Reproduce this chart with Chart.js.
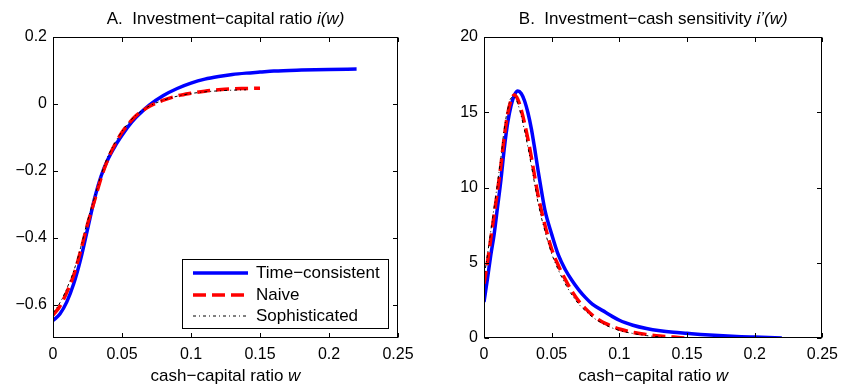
<!DOCTYPE html>
<html>
<head>
<meta charset="utf-8">
<script src="https://cdn.jsdelivr.net/npm/chart.js@4.4.1/dist/chart.umd.min.js"></script>
<style>
  html, body { margin: 0; padding: 0; background: #fff; }
  #wrap { position: relative; width: 845px; height: 387px; }
  canvas { position: absolute; top: 0; }
  #chartA { left: 0; }
  #chartB { left: 422px; }
</style>
</head>
<body>
<div id="wrap">
  <canvas id="chartA" width="422" height="387"></canvas>
  <canvas id="chartB" width="423" height="387"></canvas>
</div>
<script>
/* ==========================================================
   Investment-capital ratio i(w) and sensitivity i'(w)
   Time-consistent vs Naive vs Sophisticated
========================================================== */

// ---- Panel A: i(w) ----
const wTimeA = [0, 0.005, 0.01, 0.015, 0.02, 0.025, 0.03, 0.035, 0.04, 0.045, 0.05, 0.055, 0.06, 0.065, 0.07, 0.08, 0.09, 0.1, 0.11, 0.12, 0.13, 0.14, 0.15, 0.16, 0.18, 0.2, 0.22];
const iTime = [-0.648, -0.628, -0.592, -0.538, -0.465, -0.375, -0.285, -0.214, -0.164, -0.126, -0.094, -0.065, -0.041, -0.021, -0.003, 0.025, 0.046, 0.062, 0.074, 0.082, 0.088, 0.092, 0.095, 0.098, 0.101, 0.103, 0.104];

const wNaiveA = [0, 0.005, 0.01, 0.015, 0.02, 0.025, 0.03, 0.035, 0.04, 0.045, 0.05, 0.055, 0.06, 0.07, 0.08, 0.09, 0.1, 0.11, 0.12, 0.13, 0.14, 0.15];
const iNaive = [-0.632, -0.605, -0.563, -0.512, -0.44, -0.36, -0.29, -0.22, -0.163, -0.12, -0.085, -0.058, -0.036, -0.007, 0.011, 0.024, 0.032, 0.038, 0.042, 0.045, 0.046, 0.047];

const wSophA = [0, 0.005, 0.01, 0.015, 0.02, 0.025, 0.03, 0.035, 0.04, 0.045, 0.05, 0.055, 0.06, 0.07, 0.08, 0.09, 0.1, 0.11, 0.12, 0.13, 0.14];
const iSoph = [-0.625, -0.595, -0.552, -0.5, -0.43, -0.35, -0.28, -0.21, -0.155, -0.115, -0.082, -0.055, -0.034, -0.006, 0.011, 0.023, 0.031, 0.036, 0.039, 0.041, 0.042];

// ---- Panel B: i'(w) ----
const wTimeB = [0, 0.0025, 0.005, 0.0075, 0.01, 0.0125, 0.015, 0.0175, 0.02, 0.0225, 0.025, 0.0275, 0.03, 0.0325, 0.035, 0.0375, 0.04, 0.0425, 0.045, 0.05, 0.055, 0.06, 0.065, 0.07, 0.075, 0.08, 0.09, 0.1, 0.11, 0.12, 0.13, 0.14, 0.15, 0.16, 0.17, 0.18, 0.19, 0.2, 0.21, 0.22];
const dTime = [2.4, 3.9, 5.5, 6.9, 8.7, 10.5, 12.6, 14.3, 15.45, 16.15, 16.42, 16.25, 15.75, 14.95, 13.9, 12.55, 11.1, 9.75, 8.5, 6.9, 5.5, 4.55, 3.82, 3.2, 2.68, 2.25, 1.7, 1.18, 0.85, 0.63, 0.48, 0.38, 0.31, 0.24, 0.18, 0.13, 0.09, 0.06, 0.03, 0.0];

const wNaiveB = [0, 0.0025, 0.005, 0.0075, 0.01, 0.0125, 0.015, 0.0175, 0.02, 0.0225, 0.025, 0.0275, 0.03, 0.0325, 0.035, 0.0375, 0.04, 0.045, 0.05, 0.055, 0.06, 0.065, 0.07, 0.075, 0.08, 0.085, 0.09, 0.1, 0.11, 0.12, 0.13, 0.14, 0.148];
const dNaive = [3.6, 5.0, 6.6, 8.2, 9.8, 11.5, 13.4, 14.9, 15.8, 16.15, 15.85, 15.15, 14.25, 13.2, 12.0, 10.7, 9.45, 7.5, 5.9, 4.8, 3.9, 3.1, 2.45, 1.95, 1.52, 1.2, 0.95, 0.6, 0.38, 0.24, 0.13, 0.06, 0.0];

const wSophB = [0, 0.0025, 0.005, 0.0075, 0.01, 0.0125, 0.015, 0.0175, 0.02, 0.0225, 0.025, 0.0275, 0.03, 0.0325, 0.035, 0.0375, 0.04, 0.045, 0.05, 0.055, 0.06, 0.065, 0.07, 0.075, 0.08, 0.085, 0.09, 0.1, 0.11, 0.12, 0.13, 0.14];
const dSoph = [4.0, 5.5, 7.1, 8.7, 10.3, 12.0, 13.9, 15.2, 15.95, 16.0, 15.55, 14.75, 13.75, 12.65, 11.45, 10.2, 8.95, 7.1, 5.6, 4.5, 3.6, 2.85, 2.25, 1.8, 1.4, 1.1, 0.85, 0.5, 0.3, 0.16, 0.07, 0.0];

// ---- ticks ----
const xTicks = [0, 0.05, 0.1, 0.15, 0.2, 0.25];
const yTicksA = [-0.6, -0.4, -0.2, 0, 0.2];
const yTicksB = [0, 5, 10, 15, 20];

const FONT = "'Liberation Sans', Arial, Helvetica, sans-serif";
Chart.defaults.font.family = FONT;
Chart.defaults.color = "#000";

const STYLE = {
    time: { borderColor: "#0000FF", borderWidth: 3.5, borderDash: [] },
    naive: { borderColor: "#FF0000", borderWidth: 3.5, borderDash: [13, 6] },
    soph: { borderColor: "#000000", borderWidth: 1, borderDash: [3, 3, 1, 3] }
};

function pts(xs, ys) {
    return xs.map((x, i) => ({ x: x, y: ys[i] }));
}

function fmt(v) {
    return String(v).replace("-", "\u2212");
}

function series(label, style, xs, ys, order) {
    return Object.assign({
        label: label,
        data: pts(xs, ys),
        showLine: true,
        pointRadius: 0,
        cubicInterpolationMode: "monotone",
        order: order
    }, style);
}

// draw a line of mixed normal / italic text centred on cx
function drawParts(ctx, parts, cx, cy, size) {
    let total = 0;
    parts.forEach(p => {
        ctx.font = (p.italic ? "italic " : "") + size + "px " + FONT;
        p.w = ctx.measureText(p.t).width;
        total += p.w;
    });
    let x = cx - total / 2;
    ctx.textBaseline = "middle";
    ctx.textAlign = "left";
    ctx.fillStyle = "#000";
    parts.forEach(p => {
        ctx.font = (p.italic ? "italic " : "") + size + "px " + FONT;
        ctx.fillText(p.t, x, cy);
        x += p.w;
    });
}

/* box frame, inward ticks on all sides, titles, legend */
const framePlugin = {
    id: "frame",
    afterDraw(chart, args, opts) {
        const ctx = chart.ctx;
        const a = chart.chartArea;
        const xs = chart.scales.x;
        const ys = chart.scales.y;
        const L = Math.round(a.left) + 0.5, R = Math.round(a.right) - 0.5;
        const T = Math.round(a.top) + 0.5, B = Math.round(a.bottom) - 0.5;
        const tl = 4.5;

        ctx.save();
        ctx.strokeStyle = "#000";
        ctx.lineWidth = 1;
        ctx.setLineDash([]);
        ctx.strokeRect(L, T, R - L, B - T);

        ctx.beginPath();
        xs.ticks.forEach(t => {
            const px = Math.round(xs.getPixelForValue(t.value)) + 0.5;
            ctx.moveTo(px, B); ctx.lineTo(px, B - tl);
            ctx.moveTo(px, T); ctx.lineTo(px, T + tl);
        });
        ys.ticks.forEach(t => {
            const py = Math.round(ys.getPixelForValue(t.value)) + 0.5;
            ctx.moveTo(L, py); ctx.lineTo(L + tl, py);
            ctx.moveTo(R, py); ctx.lineTo(R - tl, py);
        });
        ctx.stroke();

        const cx = (a.left + a.right) / 2;
        drawParts(ctx, opts.title, cx, 19, 17);
        drawParts(ctx, [{ t: "cash\u2212capital ratio " }, { t: "w", italic: true }], cx, 376, 17);

        if (opts.legend) {
            const bx = 182.5, by = 259.5, bw = 206, bh = 69;
            ctx.fillStyle = "#fff";
            ctx.fillRect(bx, by, bw, bh);
            ctx.strokeStyle = "#000";
            ctx.lineWidth = 1;
            ctx.strokeRect(bx, by, bw, bh);
            const rows = [273, 295, 316];
            chart.data.datasets.forEach((ds, i) => {
                const y = rows[i];
                ctx.beginPath();
                ctx.strokeStyle = ds.borderColor;
                ctx.lineWidth = ds.borderWidth;
                ctx.setLineDash(ds.borderDash || []);
                ctx.moveTo(193, y);
                ctx.lineTo(248, y);
                ctx.stroke();
                ctx.setLineDash([]);
                ctx.fillStyle = "#000";
                ctx.font = "17px " + FONT;
                ctx.textBaseline = "middle";
                ctx.textAlign = "left";
                ctx.fillText(ds.label, 256, y);
            });
        }
        ctx.restore();
    }
};

function makeChart(id, datasets, yMin, yMax, yTicks, yWidth, padRight, title, legend) {
    return new Chart(document.getElementById(id).getContext("2d"), {
        type: "scatter",
        data: { datasets: datasets },
        options: {
            responsive: false,
            animation: false,
            events: [],
            layout: { padding: { top: 37, right: padRight, bottom: 0, left: 0 } },
            plugins: {
                legend: { display: false },
                tooltip: { enabled: false },
                frame: { title: title, legend: legend }
            },
            scales: {
                x: {
                    type: "linear",
                    min: 0,
                    max: 0.25,
                    grid: { display: false, drawTicks: false },
                    border: { display: false },
                    afterBuildTicks: (s) => { s.ticks = xTicks.map(v => ({ value: v })); },
                    afterFit: (s) => { s.height = 49; },
                    ticks: { padding: 7, font: { size: 16 }, maxRotation: 0, callback: (v) => fmt(v) }
                },
                y: {
                    type: "linear",
                    min: yMin,
                    max: yMax,
                    grid: { display: false, drawTicks: false },
                    border: { display: false },
                    afterBuildTicks: (s) => { s.ticks = yTicks.map(v => ({ value: v })); },
                    afterFit: (s) => { s.width = yWidth; },
                    ticks: { padding: 6, font: { size: 16 }, callback: (v) => fmt(v) }
                }
            }
        },
        plugins: [framePlugin]
    });
}

makeChart("chartA", [
    series("Time\u2212consistent", STYLE.time, wTimeA, iTime, 2),
    series("Naive", STYLE.naive, wNaiveA, iNaive, 1),
    series("Sophisticated", STYLE.soph, wSophA, iSoph, 0)
], -0.7, 0.2, yTicksA, 53, 24,
   [{ t: "A.  Investment\u2212capital ratio " }, { t: "i(w)", italic: true }], true);

makeChart("chartB", [
    series("Time\u2212consistent", STYLE.time, wTimeB, dTime, 2),
    series("Naive", STYLE.naive, wNaiveB, dNaive, 1),
    series("Sophisticated", STYLE.soph, wSophB, dSoph, 0)
], 0, 20, yTicksB, 62, 16,
   [{ t: "B.  Investment\u2212cash sensitivity " }, { t: "i\u2019(w)", italic: true }], false);
</script>
</body>
</html>
